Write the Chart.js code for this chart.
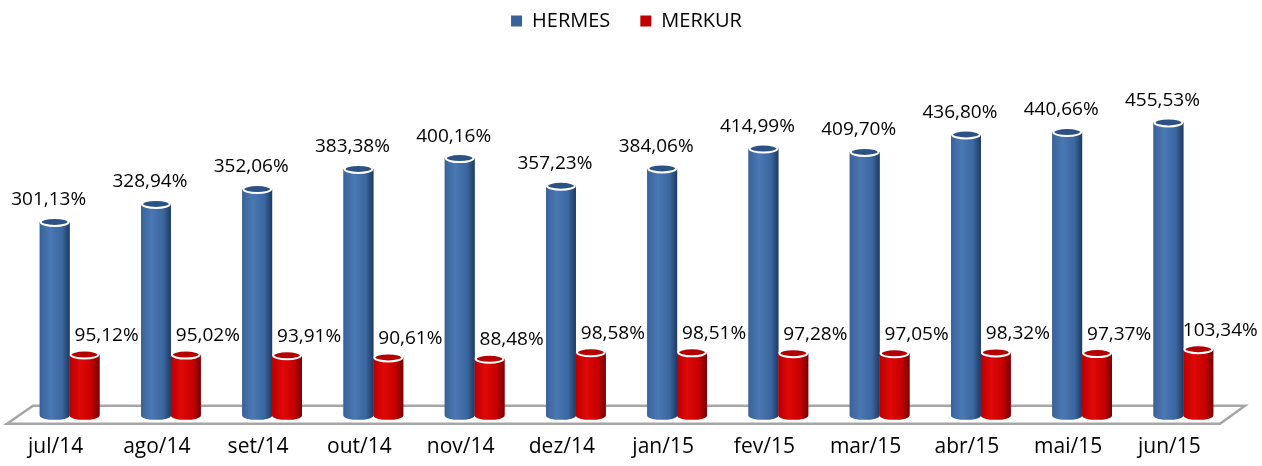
<!DOCTYPE html>
<html>
<head>
<meta charset="utf-8">
<script src="https://cdn.jsdelivr.net/npm/chart.js@4/dist/chart.umd.min.js"></script>
<style>
  html, body { margin: 0; padding: 0; background: #ffffff; }
  #wrap { width: 1262px; height: 466px; }
</style>
</head>
<body>
<div id="wrap"><canvas id="chart"></canvas></div>
<script>
const months = ['jul/14', 'ago/14', 'set/14', 'out/14', 'nov/14', 'dez/14', 'jan/15', 'fev/15', 'mar/15', 'abr/15', 'mai/15', 'jun/15'];
const hermes = [301.13, 328.94, 352.06, 383.38, 400.16, 357.23, 384.06, 414.99, 409.70, 436.80, 440.66, 455.53];
const merkur = [95.12, 95.02, 93.91, 90.61, 88.48, 98.58, 98.51, 97.28, 97.05, 98.32, 97.37, 103.34];

// body gradient stops, cap colour and label offset per series
const looks = [
    { stops: ['#3a6298', '#4a78b3', '#3b669f', '#1d3a62'], cap: '#2c5184', dx: -6, dy: -22 },
    { stops: ['#b80000', '#e00808', '#c40000', '#760000'], cap: '#b40000', dx: 22, dy: -19 }
];

function fmt(v) {
    return v.toFixed(2).replace('.', ',') + '%';
}

const floorPlugin = {
    id: 'floor',
    beforeDatasetsDraw(chart) {
        const a = chart.chartArea;
        const base = chart.scales.y.getPixelForValue(0);
        const ctx = chart.ctx;
        ctx.save();
        ctx.beginPath();
        ctx.moveTo(a.left - 12, base + 8);
        ctx.lineTo(a.right - 14, base + 8);
        ctx.lineTo(a.right + 11, base - 10);
        ctx.lineTo(a.left + 14, base - 10);
        ctx.closePath();
        ctx.fillStyle = '#ffffff';
        ctx.fill();
        ctx.strokeStyle = '#a6a6a6';
        ctx.lineWidth = 2.5;
        ctx.stroke();
        ctx.restore();
    }
};

const cylinderPlugin = {
    id: 'cylinders',
    afterDatasetsDraw(chart) {
        const ctx = chart.ctx;
        chart.data.datasets.forEach((ds, di) => {
            const look = looks[di];
            chart.getDatasetMeta(di).data.forEach((el, i) => {
                const p = el.getProps(['x', 'y', 'base', 'width'], true);
                const l = p.x - p.width / 2, r = p.x + p.width / 2;
                const rx = p.width / 2, ry = 4;
                const g = ctx.createLinearGradient(l, 0, r, 0);
                g.addColorStop(0, look.stops[0]);
                g.addColorStop(0.35, look.stops[1]);
                g.addColorStop(0.75, look.stops[2]);
                g.addColorStop(1, look.stops[3]);
                ctx.save();
                // body with rounded bottom
                ctx.beginPath();
                ctx.moveTo(l, p.y);
                ctx.lineTo(l, p.base);
                ctx.ellipse(p.x, p.base, rx, ry, 0, Math.PI, 0, true);
                ctx.lineTo(r, p.y);
                ctx.closePath();
                ctx.fillStyle = g;
                ctx.fill();
                // top cap
                ctx.beginPath();
                ctx.ellipse(p.x, p.y, rx - 1, ry, 0, 0, Math.PI * 2);
                ctx.fillStyle = look.cap;
                ctx.fill();
                ctx.strokeStyle = '#ffffff';
                ctx.lineWidth = 2;
                ctx.stroke();
                // value label
                ctx.fillStyle = '#000000';
                ctx.font = '19px "Open Sans"';
                ctx.textAlign = 'center';
                ctx.textBaseline = 'middle';
                ctx.fillText(fmt(ds.data[i]), p.x + look.dx, p.y + look.dy);
                ctx.restore();
            });
        });
    }
};

new Chart(document.getElementById('chart'), {
    type: 'bar',
    data: {
        labels: months,
        datasets: [
            { label: 'HERMES', data: hermes, backgroundColor: '#3a6298', borderWidth: 0 },
            { label: 'MERKUR', data: merkur, backgroundColor: '#c00000', borderWidth: 0 }
        ]
    },
    options: {
        responsive: true,
        maintainAspectRatio: false,
        animation: false,
        layout: { padding: { left: 19, right: 28, top: -19, bottom: -13 } },
        datasets: {
            bar: { categoryPercentage: 0.59, barPercentage: 1.0 }
        },
        plugins: {
            legend: {
                position: 'top',
                labels: {
                    boxWidth: 11,
                    boxHeight: 11,
                    padding: 30,
                    color: '#000000',
                    font: { family: '"Open Sans"', size: 20 }
                }
            },
            tooltip: { enabled: false }
        },
        scales: {
            x: {
                grid: { display: false, drawTicks: false },
                border: { display: false },
                ticks: {
                    color: '#000000',
                    padding: 19,
                    labelOffset: -14,
                    maxRotation: 0,
                    font: { family: '"Open Sans"', size: 21 }
                }
            },
            y: {
                display: false,
                min: 0,
                max: 582
            }
        }
    },
    plugins: [floorPlugin, cylinderPlugin]
});
</script>
</body>
</html>
